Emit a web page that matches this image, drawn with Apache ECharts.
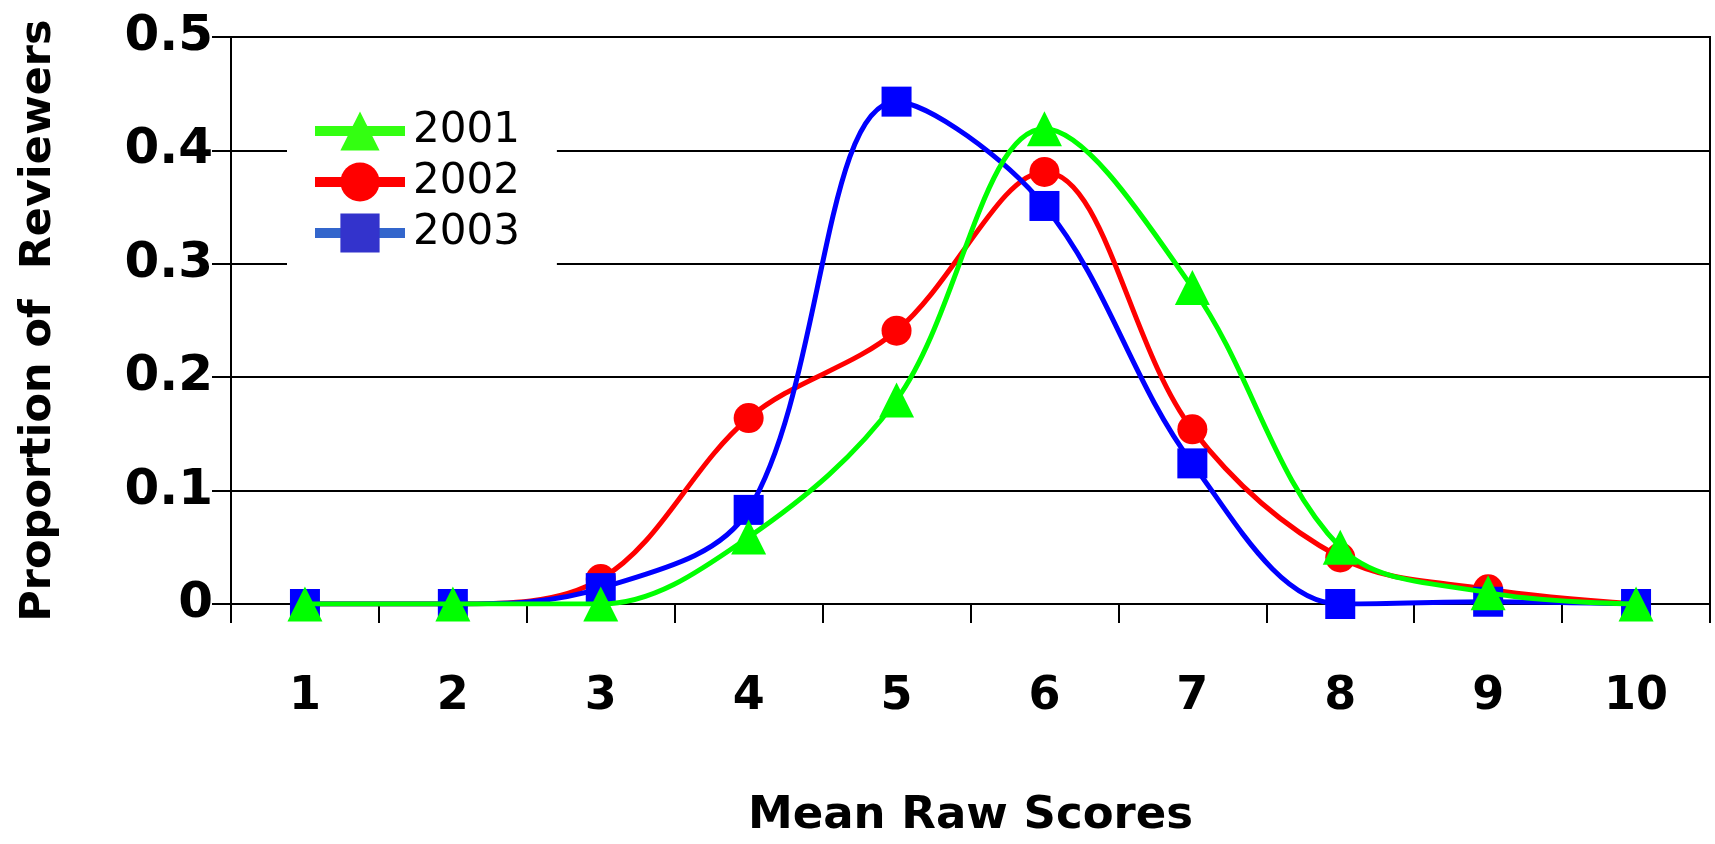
<!DOCTYPE html>
<html>
<head>
<meta charset="utf-8">
<script src="https://cdn.jsdelivr.net/npm/echarts@6/dist/echarts.min.js"></script>
<style>
html,body{margin:0;padding:0;background:#fff;}
#chart{width:1715px;height:844px;}
</style>
</head>
<body>
<div id="chart"></div>
<script>
const categories = ['1','2','3','4','5','6','7','8','9','10'];
const s2001 = [0, 0, 0, 0.059, 0.180, 0.419, 0.279, 0.050, 0.010, 0];
const s2002 = [0, 0, 0.022, 0.164, 0.241, 0.381, 0.154, 0.041, 0.013, 0];
const s2003 = [0, 0, 0.014, 0.083, 0.443, 0.351, 0.124, 0, 0.002, 0];
const seriesNames = ['2001', '2002', '2003'];
const xTitle = 'Mean Raw Scores';
const yTitle = 'Proportion of  Reviewers';

const FONT = 'DejaVu Sans';
const SMOOTH = 0.35;
const chart = echarts.init(document.getElementById('chart'));
chart.setOption({
  animation: false,
  backgroundColor: '#fff',
  grid: { left: 231, right: 5, top: 37, bottom: 236, show: true, borderColor: '#000', borderWidth: 2, backgroundColor: 'transparent' },
  legend: {
    orient: 'vertical',
    left: 287, top: 95,
    padding: [15, 37, 15, 23],
    backgroundColor: '#fff',
    itemWidth: 90, itemHeight: 49, itemGap: 9,
    textStyle: { fontFamily: FONT, fontSize: 42, color: '#000', padding: [0,0,0,3] },
    data: [
      { name: seriesNames[0], itemStyle: { color: '#33ff11' }, lineStyle: { color: '#33ff11', width: 10 } },
      { name: seriesNames[1], itemStyle: { color: '#ff0000' }, lineStyle: { color: '#ff0000', width: 10 } },
      { name: seriesNames[2], itemStyle: { color: '#3333cc' }, lineStyle: { color: '#3366cc', width: 10 } }
    ]
  },
  xAxis: {
    type: 'category',
    data: categories,
    boundaryGap: true,
    name: xTitle,
    nameLocation: 'middle',
    nameGap: 190,
    nameTextStyle: { fontFamily: FONT, fontSize: 45, fontWeight: 'bold', color: '#000' },
    axisLine: { show: true, lineStyle: { color: '#000', width: 2 } },
    axisTick: { show: true, length: 19, lineStyle: { color: '#000', width: 2 } },
    axisLabel: { margin: 70, fontFamily: FONT, fontSize: 46, fontWeight: 'bold', color: '#000' },
    splitLine: { show: false }
  },
  yAxis: {
    type: 'value',
    min: 0, max: 0.5, interval: 0.1,
    name: yTitle,
    nameLocation: 'middle',
    nameGap: 171,
    nameTextStyle: { fontFamily: FONT, fontSize: 43, fontWeight: 'bold', color: '#000' },
    axisLine: { show: true, lineStyle: { color: '#000', width: 2 } },
    axisTick: { show: true, length: 19, lineStyle: { color: '#000', width: 2 } },
    axisLabel: { margin: 18, fontFamily: FONT, fontSize: 50, fontWeight: 'bold', color: '#000' },
    splitLine: { show: true, lineStyle: { color: '#000', width: 2 } }
  },
  series: [
    { name: seriesNames[1], type: 'line', data: s2002, smooth: SMOOTH, z: 2,
      symbol: 'circle', symbolSize: 30, itemStyle: { color: '#ff0000' }, lineStyle: { color: '#ff0000', width: 5 } },
    { name: seriesNames[2], type: 'line', data: s2003, smooth: SMOOTH, z: 3,
      symbol: 'rect', symbolSize: 30, itemStyle: { color: '#0000ff' }, lineStyle: { color: '#0000ff', width: 5 } },
    { name: seriesNames[0], type: 'line', data: s2001, smooth: SMOOTH, z: 4,
      symbol: 'triangle', symbolSize: 35, itemStyle: { color: '#00ff00' }, lineStyle: { color: '#00ff00', width: 5 } }
  ]
});
</script>
</body>
</html>
